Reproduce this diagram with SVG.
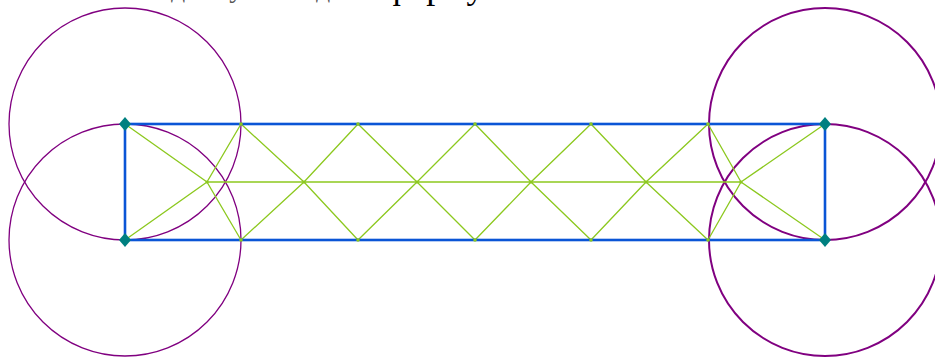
<svg xmlns="http://www.w3.org/2000/svg" width="935" height="361" viewBox="0 0 935 361">
<style>
.t{font-family:"Liberation Serif","Times New Roman",serif;fill:#000}
.tg{font-family:"Liberation Serif","Times New Roman",serif;fill:#555}
.g{stroke:#8cc81e;stroke-width:1.3;fill:none}
.c{stroke:#800080;fill:none}
.b{stroke:#0a55d6;stroke-width:2.6;fill:none}
.d{fill:#008080}
.p{fill:#8cc81e}
</style>
<defs>
<path id="dia" d="M0,-7 L6,0 L0,7 L-6,0 Z"/>
</defs>
<g id="title">
<text class="tg" x="171" y="-3" font-size="28">длину</text>
<text class="tg" x="316" y="-3" font-size="28">дан</text>
<text class="t" x="385" y="-2" font-size="36">форму</text>
</g>
<g id="circles">
<circle class="c" cx="125" cy="124" r="116" stroke-width="1.3"/>
<circle class="c" cx="125" cy="240" r="116" stroke-width="1.3"/>
<circle class="c" cx="825" cy="124" r="116" stroke-width="2"/>
<circle class="c" cx="825" cy="240" r="116" stroke-width="2"/>
</g>
<g id="connectors">
<polyline class="g" points="125,124 207,182 125,240"/>
<polyline class="g" points="241,124 207,182 241,240"/>
<polyline class="g" points="241,124 304,182 358,240"/>
<polyline class="g" points="241,240 304,182 358,124"/>
<polyline class="g" points="358,124 417,182 475,240"/>
<polyline class="g" points="358,240 417,182 475,124"/>
<polyline class="g" points="475,124 531,182 591,240"/>
<polyline class="g" points="475,240 531,182 591,124"/>
<polyline class="g" points="591,124 646,182 708,240"/>
<polyline class="g" points="591,240 646,182 708,124"/>
<polyline class="g" points="708,124 741,182 708,240"/>
<polyline class="g" points="825,124 741,182 825,240"/>
<line class="g" x1="207" y1="182" x2="741" y2="182" stroke-width="1.5"/>
</g>
<g id="frame">
<rect class="b" x="125" y="124" width="700" height="116"/>
</g>
<g id="points">
<circle class="p" cx="241" cy="124" r="1.8"/><circle class="p" cx="358" cy="124" r="1.8"/>
<circle class="p" cx="475" cy="124" r="1.8"/><circle class="p" cx="591" cy="124" r="1.8"/>
<circle class="p" cx="708" cy="124" r="1.8"/>
<circle class="p" cx="241" cy="240" r="1.8"/><circle class="p" cx="358" cy="240" r="1.8"/>
<circle class="p" cx="475" cy="240" r="1.8"/><circle class="p" cx="591" cy="240" r="1.8"/>
<circle class="p" cx="708" cy="240" r="1.8"/>
<circle class="p" cx="207" cy="182" r="1.6"/><circle class="p" cx="304" cy="182" r="1.6"/>
<circle class="p" cx="417" cy="182" r="1.6"/><circle class="p" cx="531" cy="182" r="1.6"/>
<circle class="p" cx="646" cy="182" r="1.6"/><circle class="p" cx="741" cy="182" r="1.6"/>
</g>
<g id="node-tl"><use href="#dia" class="d" x="125" y="124"/></g>
<g id="node-bl"><use href="#dia" class="d" x="125" y="240"/></g>
<g id="node-tr"><use href="#dia" class="d" x="825" y="124"/></g>
<g id="node-br"><use href="#dia" class="d" x="825" y="240"/></g>
</svg>
